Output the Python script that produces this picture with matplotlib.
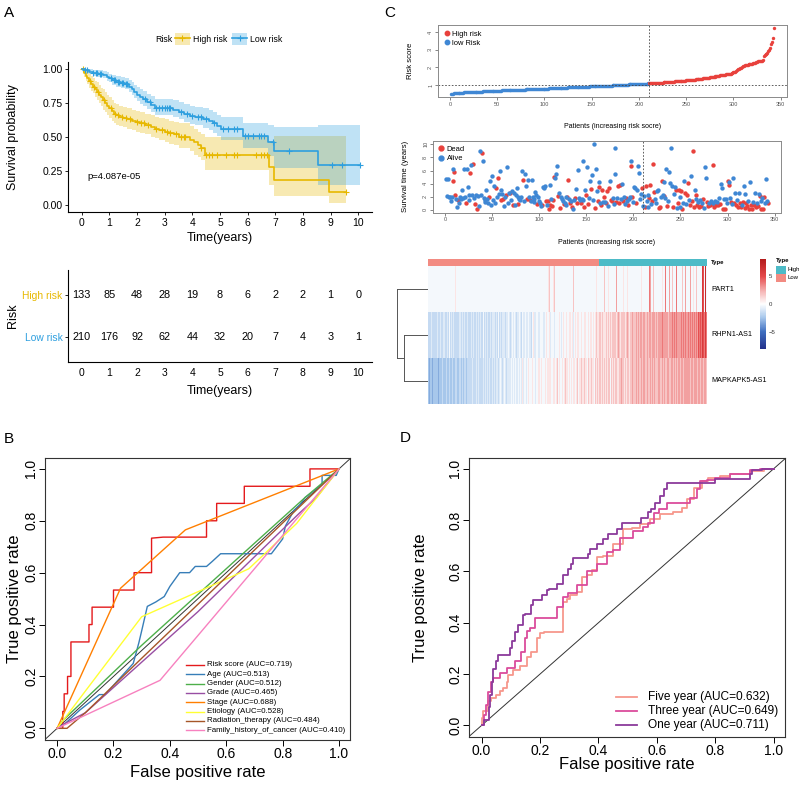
import numpy as np
import matplotlib
matplotlib.use('Agg')
import matplotlib.pyplot as plt
from matplotlib.colors import LinearSegmentedColormap, ListedColormap
from matplotlib.lines import Line2D
from matplotlib.patches import Patch, Rectangle

plt.rcParams['font.family'] = ['Liberation Sans', 'DejaVu Sans']

W, H = 799, 785

# ────────────────────────────────
# A: Kaplan-Meier (step curves, 95% CI, censor marks)

km_groups = ['High risk', 'Low risk']
km_colors = ['#E7B800', '#2E9FDF']

high_t = [0, 0.08, 0.15, 0.2, 0.27, 0.33, 0.4, 0.47, 0.55, 0.62, 0.7, 0.78, 0.85, 0.92, 1.0, 1.08, 1.15,
          1.25, 1.35, 1.5, 1.65, 1.8, 1.95, 2.1, 2.3, 2.5, 2.65, 2.8, 3.0, 3.15, 3.35, 3.5, 3.9, 4.05,
          4.2, 4.3, 4.45, 6.78, 6.97, 8.95, 9.55]
high_s = [1.0, 0.97, 0.95, 0.93, 0.91, 0.89, 0.87, 0.85, 0.83, 0.81, 0.79, 0.77, 0.75, 0.73, 0.71, 0.69,
          0.67, 0.66, 0.65, 0.64, 0.63, 0.62, 0.61, 0.60, 0.59, 0.575, 0.56, 0.55, 0.54, 0.53, 0.52, 0.50,
          0.48, 0.46, 0.44, 0.42, 0.37, 0.28, 0.185, 0.093, 0.093]
high_lo = [1.0, 0.94, 0.91, 0.89, 0.86, 0.84, 0.82, 0.79, 0.77, 0.75, 0.73, 0.70, 0.68, 0.66, 0.64, 0.62,
           0.60, 0.59, 0.58, 0.57, 0.56, 0.55, 0.54, 0.53, 0.52, 0.50, 0.49, 0.48, 0.46, 0.45, 0.44, 0.42,
           0.40, 0.37, 0.35, 0.33, 0.26, 0.15, 0.065, 0.015, 0.015]
high_hi = [1.0, 1.0, 0.99, 0.98, 0.96, 0.95, 0.93, 0.91, 0.90, 0.88, 0.86, 0.85, 0.83, 0.81, 0.79, 0.77,
           0.75, 0.74, 0.73, 0.72, 0.71, 0.70, 0.69, 0.68, 0.67, 0.66, 0.65, 0.64, 0.63, 0.62, 0.61, 0.60,
           0.58, 0.56, 0.54, 0.52, 0.50, 0.47, 0.51, 0.51, 0.51]
high_cens = [0.05, 0.3, 0.45, 0.6, 0.8, 1.05, 1.2, 1.3, 1.45, 1.6, 1.75, 2.0, 2.15, 2.25, 2.4, 2.7, 2.9,
             3.1, 3.2, 3.4, 3.6, 3.7, 3.75, 4.3, 4.5, 4.6, 4.7, 4.9, 5.2, 5.5, 5.6, 6.3, 6.5, 6.6, 6.7, 9.55]

low_t = [0, 0.1, 0.25, 0.4, 0.6, 0.75, 0.9, 1.0, 1.1, 1.25, 1.4, 1.55, 1.7, 1.8, 1.9, 2.0, 2.1, 2.2,
         2.35, 2.5, 2.65, 3.3, 3.5, 3.7, 3.9, 4.1, 4.4, 4.6, 4.75, 4.9, 5.05, 5.85, 6.75, 6.97, 8.55, 10.05]
low_s = [1.0, 0.99, 0.98, 0.97, 0.965, 0.955, 0.94, 0.93, 0.915, 0.90, 0.895, 0.885, 0.87, 0.85, 0.83,
         0.81, 0.79, 0.775, 0.755, 0.735, 0.715, 0.70, 0.685, 0.67, 0.655, 0.645, 0.63, 0.615, 0.60, 0.58,
         0.555, 0.505, 0.46, 0.40, 0.295, 0.295]
low_lo = [1.0, 0.98, 0.96, 0.95, 0.94, 0.93, 0.91, 0.90, 0.88, 0.865, 0.86, 0.85, 0.83, 0.81, 0.785,
          0.765, 0.745, 0.73, 0.705, 0.685, 0.66, 0.645, 0.63, 0.61, 0.595, 0.585, 0.565, 0.55, 0.53, 0.51,
          0.48, 0.42, 0.36, 0.27, 0.15, 0.15]
low_hi = [1.0, 1.0, 1.0, 0.99, 0.99, 0.985, 0.975, 0.965, 0.955, 0.945, 0.94, 0.93, 0.915, 0.90, 0.885,
          0.865, 0.85, 0.835, 0.815, 0.80, 0.78, 0.77, 0.76, 0.745, 0.73, 0.72, 0.71, 0.695, 0.685, 0.665,
          0.645, 0.60, 0.59, 0.57, 0.59, 0.59]
low_cens = [0.1, 0.2, 0.4, 0.5, 0.55, 0.65, 0.7, 1.05, 1.15, 1.2, 1.3, 1.35, 1.45, 1.5, 1.6, 1.65, 2.3,
            2.45, 2.7, 2.8, 2.9, 3.0, 3.1, 3.15, 3.2, 3.6, 3.8, 4.0, 4.2, 4.3, 4.5, 4.8, 5.1, 5.3, 5.5,
            5.6, 5.9, 6.0, 6.2, 6.4, 6.5, 6.6, 6.9, 7.5, 9.05, 9.4, 10.05]

table_times = list(range(11))
table_high = [133, 85, 48, 28, 19, 8, 6, 2, 2, 1, 0]
table_low = [210, 176, 92, 62, 44, 32, 20, 7, 4, 3, 1]

# ────────────────────────────────
# C: risk score, survival status, heatmap

n_low, n_high = 210, 133

risk_low = [0.47, 0.50, 0.51, 0.52, 0.53, 0.54, 0.54, 0.55, 0.55, 0.56,
            0.56, 0.57, 0.57, 0.57, 0.58, 0.58, 0.58, 0.59, 0.59, 0.59,
            0.60, 0.60, 0.60, 0.61, 0.61, 0.61, 0.62, 0.62, 0.62, 0.62,
            0.63, 0.63, 0.63, 0.63, 0.64, 0.64, 0.64, 0.64, 0.65, 0.65,
            0.65, 0.65, 0.66, 0.66, 0.66, 0.66, 0.67, 0.67, 0.67, 0.67,
            0.68, 0.68, 0.68, 0.68, 0.69, 0.69, 0.69, 0.69, 0.70, 0.70,
            0.70, 0.70, 0.71, 0.71, 0.71, 0.71, 0.71, 0.72, 0.72, 0.72,
            0.72, 0.73, 0.73, 0.73, 0.73, 0.74, 0.74, 0.74, 0.74, 0.75,
            0.75, 0.75, 0.75, 0.75, 0.76, 0.76, 0.76, 0.76, 0.77, 0.77,
            0.77, 0.77, 0.78, 0.78, 0.78, 0.78, 0.79, 0.79, 0.79, 0.79,
            0.80, 0.80, 0.80, 0.80, 0.81, 0.81, 0.81, 0.81, 0.82, 0.82,
            0.82, 0.82, 0.83, 0.83, 0.83, 0.83, 0.84, 0.84, 0.84, 0.84,
            0.85, 0.85, 0.85, 0.85, 0.86, 0.86, 0.86, 0.86, 0.87, 0.87,
            0.87, 0.87, 0.88, 0.88, 0.88, 0.88, 0.89, 0.89, 0.89, 0.89,
            0.90, 0.90, 0.90, 0.91, 0.91, 0.91, 0.91, 0.92, 0.92, 0.92,
            0.92, 0.93, 0.93, 0.93, 0.93, 0.94, 0.94, 0.94, 0.94, 0.95,
            0.95, 0.95, 0.95, 0.96, 0.96, 0.96, 0.96, 0.97, 0.97, 0.97,
            0.97, 0.98, 0.98, 0.98, 0.99, 0.99, 0.99, 0.99, 1.00, 1.00,
            1.00, 1.01, 1.01, 1.01, 1.02, 1.02, 1.02, 1.02, 1.03, 1.03,
            1.03, 1.04, 1.04, 1.04, 1.04, 1.05, 1.05, 1.05, 1.06, 1.06,
            1.06, 1.06, 1.07, 1.07, 1.07, 1.07, 1.08, 1.08, 1.08, 1.09]
risk_high = [1.09, 1.10, 1.10, 1.10, 1.11, 1.11, 1.11, 1.12, 1.12, 1.12,
             1.13, 1.13, 1.13, 1.14, 1.14, 1.15, 1.15, 1.15, 1.16, 1.16,
             1.17, 1.17, 1.17, 1.18, 1.18, 1.19, 1.19, 1.20, 1.20, 1.21,
             1.21, 1.22, 1.22, 1.23, 1.23, 1.24, 1.24, 1.25, 1.25, 1.26,
             1.26, 1.27, 1.27, 1.28, 1.29, 1.29, 1.30, 1.30, 1.31, 1.32,
             1.32, 1.33, 1.34, 1.34, 1.35, 1.36, 1.36, 1.37, 1.38, 1.39,
             1.39, 1.40, 1.41, 1.42, 1.43, 1.44, 1.45, 1.46, 1.47, 1.48,
             1.49, 1.50, 1.51, 1.52, 1.53, 1.54, 1.55, 1.56, 1.57, 1.58,
             1.59, 1.60, 1.61, 1.62, 1.63, 1.64, 1.65, 1.67, 1.69, 1.71,
             1.73, 1.76, 1.80, 1.84, 1.88, 1.92, 1.95, 1.98, 2.02, 2.06,
             2.10, 2.13, 2.14, 2.15, 2.16, 2.17, 2.18, 2.19, 2.20, 2.21,
             2.22, 2.24, 2.26, 2.29, 2.32, 2.34, 2.35, 2.36, 2.37, 2.38,
             2.42, 2.62, 2.70, 2.74, 2.78, 2.84, 2.90, 3.00, 3.08, 3.30,
             3.45, 3.65, 4.25]

surv_time = [4.7, 2.1, 4.7, 2.0, 1.9, 1.3, 1.9, 6.2, 4.4, 5.8,
             2.2, 1.7, 0.5, 1.5, 1.0, 2.0, 1.6, 3.0, 1.8, 6.3,
             2.0, 1.0, 6.2, 3.5, 2.3, 1.5, 5.6, 6.9, 2.2, 7.0,
             1.8, 0.9, 2.2, 0.1, 2.1, 0.6, 9.0, 2.2, 8.6, 7.5,
             1.8, 1.5, 1.2, 3.1, 1.6, 1.0, 1.9, 4.4, 0.7, 5.2,
             1.5, 3.7, 1.1, 3.3, 1.9, 4.9, 2.4, 5.9, 1.5, 3.0,
             2.4, 1.7, 0.6, 1.9, 2.3, 6.6, 1.1, 2.6, 2.5, 1.5,
             2.9, 0.8, 2.6, 0.7, 2.3, 3.3, 1.9, 0.9, 1.7, 1.5,
             2.0, 5.9, 4.6, 1.3, 5.5, 3.6, 1.7, 4.6, 1.9, 1.5,
             1.3, 4.6, 2.0, 1.6, 1.2, 2.7, 2.3, 0.9, 1.9, 1.3,
             1.1, 0.6, 0.7, 3.5, 3.3, 3.7, 1.4, 0.8, 1.3, 0.2,
             3.8, 0.7, 1.6, 0.6, 1.5, 5.0, 4.9, 5.4, 6.7, 2.1,
             2.5, 0.3, 1.9, 1.7, 1.3, 0.9, 1.0, 2.0, 0.8, 1.9,
             4.6, 1.7, 1.0, 1.3, 0.4, 0.2, 1.5, 1.8, 3.2, 1.1,
             6.1, 1.8, 1.5, 1.1, 1.6, 7.5, 1.5, 0.4, 3.1, 2.3,
             6.6, 0.9, 1.8, 4.4, 3.2, 5.3, 1.5, 10.0, 0.3, 6.2,
             2.9, 1.3, 4.2, 3.5, 1.0, 0.8, 3.1, 1.2, 2.0, 1.2,
             1.0, 2.9, 0.6, 3.4, 4.4, 1.5, 1.4, 1.8, 0.9, 9.4,
             5.4, 1.2, 1.8, 3.7, 1.0, 3.8, 1.7, 3.9, 1.4, 1.9,
             0.9, 1.8, 1.3, 0.7, 1.6, 2.0, 6.7, 7.5, 1.9, 1.2,
             3.5, 3.3, 1.1, 3.0, 6.7, 5.6, 1.7, 2.4, 3.3, 0.6,
             2.1, 0.5, 3.7, 1.3, 2.3, 0.4, 1.8, 3.8, 0.9, 1.3,
             7.0, 2.8, 1.6, 1.0, 2.9, 3.0, 0.3, 0.4, 2.0, 4.4,
             2.3, 2.1, 4.3, 1.8, 6.3, 0.6, 1.4, 5.7, 4.1, 9.5,
             3.7, 0.5, 2.4, 3.5, 3.1, 0.3, 1.1, 3.0, 1.9, 0.5,
             2.9, 0.1, 1.0, 4.4, 2.5, 0.9, 2.2, 4.1, 1.5, 0.8,
             5.1, 1.3, 8.9, 0.4, 3.0, 1.6, 2.2, 0.7, 1.2, 0.4,
             1.5, 0.6, 1.0, 1.7, 0.3, 6.6, 4.9, 1.2, 0.6, 1.0,
             0.8, 1.3, 0.9, 6.8, 1.1, 0.4, 1.4, 0.7, 1.2, 0.8,
             1.8, 0.9, 4.0, 3.3, 0.2, 1.7, 0.2, 1.7, 1.0, 4.4,
             4.3, 3.8, 1.8, 1.2, 0.9, 4.8, 1.0, 2.6, 0.7, 1.5,
             0.5, 2.6, 1.1, 0.4, 0.8, 1.2, 3.7, 0.3, 2.4, 1.0,
             0.6, 1.4, 0.2, 4.3, 0.8, 0.2, 1.2, 0.7, 2.5, 0.4,
             1.1, 0.6, 2.4, 2.1, 0.2, 1.3, 1.8, 0.2, 2.0, 1.1,
             4.7, 1.4, 1.0]
# D = dead, A = alive, one letter per patient
surv_state = ("AAAAAAAADD" "DAADAAAAAA" "ADAAAADAAD" "ADADAAAADA" "AAAAAADAAA"
              "AAADADAADA" "ADAADAAADA" "ADAAAAADAA" "AADAAADAAD" "AAAAAAADAA"
              "AADAAADADD" "ADADDDAAAD" "ADAAADAAAD" "DADADAADAD" "AAADAAADAD"
              "ADAADAAADA" "ADADADDADA" "DDADADDAAA" "ADADDDAADA" "ADADAADADA"
              "AADAAAAADA" "ADDAAADDAD" "DDAAAADDAD" "ADAAADAAAA" "ADAADADDAA"
              "DDAADADDAD" "ADDDAADDAD" "ADADAAADDA" "DADDADADAD" "ADAADADAAD"
              "ADADAADADA" "DADDADADAD" "DADADDADAD" "ADADDAADDA" "AAD")

genes = ['PART1', 'RHPN1-AS1', 'MAPKAPK5-AS1']
# expression level codes per patient (see expr_levels)
expr_levels = {'0': -4.0, '1': -3.2, '2': -2.4, '3': -1.6, '4': -0.9, '5': -0.3, '6': 0.8,
               '7': 1.8, '8': 2.8, '9': 3.8, 'a': 4.8, 'b': 5.8, 'c': 6.8}
expr_part1 = ("5555555555 5555555555 5555555555 5556555555 5555555555 5555555555 5555555555 "
              "5555555555 5555555555 5555555555 5555555555 5555555555 5555555555 5555555555 "
              "5555555567 5555675555 5555555555 5555555576 5555555555 5555555555 5555555655 "
              "5555557555 5655555555 5855555555 6555565555 5555555555 5565555555 5598555755 "
              "5555555565 5955558555 7555595555 5575558555 5585556555 7555555ba5 5c5")
expr_rhpn1 = ("3343433343 3433343334 4334335343 3433433344 3343443343 4334345334 3443434353 "
              "4344334434 4434435344 3445434454 4345445435 4454345445 5445454356 4545546455 "
              "5454565456 4565545565 5656456565 6556565646 5656665565 6566565656 6656566766 "
              "7676766767 6776767677 7677876767 7767787677 7877678787 7887878778 8788787887 "
              "8878887898 8898878988 9889898898 8989989898 9898a98989 98a99a9ba9 8b9")
expr_mapk = ("2122212212 2212222322 2232223223 3223232233 3232333233 3333432334 3343334343 "
             "4334343434 3434443445 4344543445 4454454546 4545456455 5456545565 5645565656 "
             "5565656566 6565665657 5656565667 6656756565 6567656676 5676665766 6766576676 "
             "7676767767 6767576776 7767677867 7677677677 7877678787 7787878778 8778787787 "
             "7878878787 8787887878 8788787888 7888788878 8878887888 8788878878 887")
dendro_heights = [6.2, 8.0]  # RHPN1-AS1 + MAPKAPK5-AS1, then PART1

# ────────────────────────────────
# B: ROC of clinical features

roc_b_names = ['Risk score', 'Age', 'Gender', 'Grade', 'Stage', 'Etiology',
               'Radiation_therapy', 'Family_history_of_cancer']
roc_b_auc = ['0.719', '0.513', '0.512', '0.465', '0.688', '0.528', '0.484', '0.410']
roc_b_colors = ['#E41A1C', '#377EB8', '#4DAF4A', '#984EA3', '#FF7F00', '#FFFF33', '#A65628', '#F781BF']
roc_b_fpr = [
    [0, 0.02, 0.02, 0.025, 0.025, 0.037, 0.037, 0.049, 0.049, 0.113, 0.113, 0.124, 0.124, 0.2, 0.2,
     0.273, 0.273, 0.335, 0.335, 0.376, 0.53, 0.53, 0.566, 0.566, 0.664, 0.664, 0.897, 0.897, 1.0],
    [0, 0.03, 0.08, 0.15, 0.17, 0.27, 0.28, 0.29, 0.30, 0.32, 0.35, 0.38, 0.40, 0.435, 0.47,
     0.49, 0.53, 0.55, 0.58, 0.76, 0.80, 0.81, 0.84, 0.86, 0.88, 0.94, 0.94, 0.99, 1.0],
    [0, 0.02, 0.3, 0.61, 0.88, 1.0],
    [0, 0.03, 0.1, 0.5, 0.86, 0.92, 1.0],
    [0, 0.225, 0.455, 1.0],
    [0, 0.30, 0.6, 0.68, 0.85, 1.0],
    [0, 0.035, 0.1, 0.3, 1.0],
    [0, 0.365, 1.0],
]
roc_b_tpr = [
    [0, 0, 0.065, 0.065, 0.133, 0.133, 0.2, 0.2, 0.333, 0.333, 0.4, 0.4, 0.467, 0.467, 0.533,
     0.533, 0.6, 0.6, 0.733, 0.737, 0.737, 0.80, 0.80, 0.867, 0.867, 0.933, 0.933, 1.0, 1.0],
    [0, 0.02, 0.07, 0.13, 0.13, 0.25, 0.29, 0.33, 0.376, 0.47, 0.487, 0.508, 0.547, 0.60, 0.60,
     0.624, 0.624, 0.643, 0.673, 0.673, 0.73, 0.78, 0.84, 0.86, 0.89, 0.94, 0.975, 0.975, 1.0],
    [0, 0.03, 0.32, 0.625, 0.89, 1.0],
    [0, 0.02, 0.06, 0.45, 0.83, 0.89, 1.0],
    [0, 0.54, 0.765, 1.0],
    [0, 0.43, 0.575, 0.615, 0.79, 1.0],
    [0, 0, 0.06, 0.27, 1.0],
    [0, 0.185, 1.0],
]

# ────────────────────────────────
# D: time-dependent ROC

roc_d_names = ['Five year', 'Three year', 'One year']
roc_d_auc = ['0.632', '0.649', '0.711']
roc_d_colors = ['#F7978C', '#DB4C9C', '#8B3A9B']
five_fpr = [0, 0.006, 0.023, 0.034, 0.051, 0.063, 0.074, 0.088, 0.091, 0.109, 0.131, 0.154, 0.171, 0.189,
            0.2, 0.214, 0.234, 0.28, 0.291, 0.303, 0.326, 0.343, 0.36, 0.377, 0.394, 0.417, 0.451, 0.486,
            0.514, 0.543, 0.577, 0.611, 0.634, 0.657, 0.686, 0.703, 0.726, 0.754, 0.777, 0.817, 0.851,
            0.92, 0.966, 1.0]
five_tpr = [0, 0.03, 0.055, 0.094, 0.107, 0.12, 0.133, 0.146, 0.17, 0.197, 0.217, 0.23, 0.268, 0.288,
            0.34, 0.359, 0.365, 0.365, 0.48, 0.494, 0.507, 0.52, 0.578, 0.585, 0.604, 0.655, 0.662, 0.707,
            0.765, 0.768, 0.785, 0.804, 0.823, 0.823, 0.83, 0.849, 0.881, 0.926, 0.952, 0.965, 0.972,
            0.978, 0.99, 1.0]
three_fpr = [0, 0.01, 0.015, 0.023, 0.031, 0.04, 0.063, 0.086, 0.114, 0.134, 0.149, 0.157, 0.166, 0.183,
             0.191, 0.2, 0.21, 0.257, 0.28, 0.297, 0.326, 0.36, 0.394, 0.429, 0.451, 0.474, 0.52, 0.554,
             0.571, 0.589, 0.606, 0.634, 0.651, 0.686, 0.714, 0.737, 0.749, 0.771, 0.8, 0.851, 0.92,
             0.954, 1.0]
three_tpr = [0, 0, 0.04, 0.08, 0.13, 0.17, 0.185, 0.204, 0.223, 0.25, 0.288, 0.34, 0.368, 0.378,
             0.417, 0.42, 0.42, 0.42, 0.46, 0.50, 0.517, 0.546, 0.60, 0.63, 0.675, 0.685, 0.73, 0.759,
             0.775, 0.79, 0.826, 0.843, 0.866, 0.866, 0.866, 0.888, 0.92, 0.952, 0.956, 0.965, 0.978,
             0.997, 1.0]
one_fpr = [0, 0.01, 0.015, 0.025, 0.03, 0.035, 0.04, 0.051, 0.057, 0.069, 0.097, 0.103, 0.114, 0.126,
           0.143, 0.149, 0.171, 0.177, 0.189, 0.206, 0.211, 0.223, 0.231, 0.257, 0.266, 0.28, 0.295,
           0.305, 0.314, 0.337, 0.366, 0.371, 0.394, 0.417, 0.434, 0.463, 0.48, 0.497, 0.545, 0.552,
           0.571, 0.579, 0.594, 0.611, 0.623, 0.634, 0.651, 0.8, 0.806, 0.92, 0.926, 0.96, 1.0]
one_tpr = [0, 0, 0.02, 0.02, 0.07, 0.12, 0.17, 0.22, 0.25, 0.275, 0.275, 0.30, 0.33, 0.365, 0.39,
           0.43, 0.436, 0.468, 0.488, 0.488, 0.507, 0.507, 0.526, 0.533, 0.552, 0.552, 0.585, 0.61,
           0.63, 0.652, 0.652, 0.668, 0.688, 0.707, 0.726, 0.746, 0.765, 0.788, 0.788, 0.81, 0.81,
           0.83, 0.845, 0.868, 0.894, 0.92, 0.943, 0.943, 0.961, 0.961, 0.978, 0.997, 1.0]


# ────────────────────────────────
# helpers: axes placed by pixel box (left, top, right, bottom)

fig = plt.figure(figsize=(W / 100, H / 100), dpi=100)


def box(l, t, r, b):
    ax = fig.add_axes([l / W, 1 - b / H, (r - l) / W, (b - t) / H])
    ax.px = (l, t, r, b)
    return ax


def put_xlabel(ax, text, y, size):
    l, t, r, b = ax.px
    ax.set_xlabel(text, fontsize=size, va='center')
    ax.xaxis.set_label_coords(0.5, (b - y) / (b - t))


def put_ylabel(ax, text, x, size):
    l, t, r, b = ax.px
    ax.set_ylabel(text, fontsize=size, va='center')
    ax.yaxis.set_label_coords((x - l) / (r - l), 0.5)


def ftext(x, y, s, **kw):
    fig.text(x / W, 1 - y / H, s, **kw)


# ────────────────────────────────
# A

axk = box(68, 62, 372, 212)
km_data = [(high_t, high_s, high_lo, high_hi, high_cens), (low_t, low_s, low_lo, low_hi, low_cens)]
for (t, s, lo, hi, cens), col in zip(km_data, km_colors):
    axk.fill_between(t, lo, hi, step='post', color=col, alpha=0.3, lw=0)
for (t, s, lo, hi, cens), col in zip(km_data, km_colors):
    axk.step(t, s, where='post', color=col, lw=1.2)
    k = np.searchsorted(t, cens, side='right') - 1
    axk.plot(cens, np.array(s)[k], ls='none', marker='+', ms=4.5, mew=0.8, color=col)
axk.set_xlim(-0.5, 10.5)
axk.set_ylim(-0.05, 1.05)
axk.set_xticks(table_times)
axk.set_yticks([0, 0.25, 0.5, 0.75, 1.0])
axk.set_yticklabels(['0.00', '0.25', '0.50', '0.75', '1.00'])
axk.tick_params(labelsize=7.5, length=2.5, width=0.6, pad=1.5)
for sp in ['top', 'right']:
    axk.spines[sp].set_visible(False)
axk.text(0.2, 0.19, 'p=4.087e-05', fontsize=6.8)
put_xlabel(axk, 'Time(years)', 238, 9)
put_ylabel(axk, 'Survival probability', 13, 9)

handles = [(Patch(facecolor=c, alpha=0.3, edgecolor='none'),
            Line2D([], [], color=c, lw=1.2, marker='+', ms=4.5, mew=0.8)) for c in km_colors]
fig.legend(handles, km_groups, loc='center left', bbox_to_anchor=(175 / W, 1 - 39 / H),
           ncol=2, frameon=False, fontsize=6.3, handlelength=1.7, handleheight=1.6,
           columnspacing=0.5, handletextpad=0.4, borderpad=0, borderaxespad=0)
ftext(155, 39, 'Risk', fontsize=6.3, va='center')

axr = box(68, 270, 372, 362)
for counts, yrow in [(table_high, 2), (table_low, 1)]:
    for tt, n in zip(table_times, counts):
        axr.text(tt, yrow, str(n), ha='center', va='center', fontsize=7.8)
axr.set_xlim(-0.5, 10.5)
axr.set_ylim(0.4, 2.6)
axr.set_xticks(table_times)
axr.set_yticks([2, 1])
axr.set_yticklabels(km_groups, fontsize=7.4)
for lab, c in zip(axr.get_yticklabels(), km_colors):
    lab.set_color(c)
axr.tick_params(axis='x', labelsize=7.5, length=0, pad=4)
axr.tick_params(axis='y', length=2.5, width=0.6, pad=1.5)
for sp in ['top', 'right']:
    axr.spines[sp].set_visible(False)
put_xlabel(axr, 'Time(years)', 391, 9)
put_ylabel(axr, 'Risk', 13, 9)

# ────────────────────────────────
# C

c_red, c_blue = '#E8413C', '#3F87D4'
frame_col, tick_col = '#8a8a8a', '#555555'
pid = np.arange(1, n_low + n_high + 1)
risk = np.array(risk_low + risk_high)
is_high = pid > n_low

axs = box(438, 25, 787, 97)
axs.scatter(pid[~is_high], risk[~is_high], s=6, color=c_blue, lw=0)
axs.scatter(pid[is_high], risk[is_high], s=6, color=c_red, lw=0)
axs.axvline(n_low + 0.5, color='#444444', lw=0.6, ls=(0, (2, 2)))
axs.axhline(np.median(risk), color='#444444', lw=0.6, ls=(0, (2, 2)))
axs.set_xlim(-12.7, 356.7)
axs.set_ylim(0.32, 4.40)
axs.set_xticks(range(0, 351, 50))
axs.set_yticks([1, 2, 3, 4])
axs.set_yticklabels(['1', '2', '3', '4'], rotation=90, va='center')
axs.legend([Line2D([], [], ls='none', marker='o', ms=3.2, color=c_red),
            Line2D([], [], ls='none', marker='o', ms=3.2, color=c_blue)],
           ['High risk', 'low Risk'], loc='upper left', frameon=False, fontsize=5.4,
           handletextpad=0.2, handlelength=1.0, labelspacing=0.3, borderaxespad=0.3)
put_xlabel(axs, 'Patients (increasing risk socre)', 127, 5)
put_ylabel(axs, 'Risk score', 410, 5.6)

axv = box(433, 141, 781, 212.5)
dead = np.array([c == 'D' for c in surv_state])
stime = np.array(surv_time)
axv.scatter(pid[dead], stime[dead], s=10, color=c_red, lw=0)
axv.scatter(pid[~dead], stime[~dead], s=10, color=c_blue, lw=0)
axv.axvline(n_low + 0.5, color='#444444', lw=0.6, ls=(0, (2, 2)))
axv.set_xlim(-12.7, 356.7)
axv.set_ylim(-0.4, 10.5)
axv.set_xticks(range(0, 351, 50))
axv.set_yticks(range(0, 11, 2))
axv.set_yticklabels([str(v) for v in range(0, 11, 2)], rotation=90, va='center')
axv.legend([Line2D([], [], ls='none', marker='o', ms=3.5, color=c_red),
            Line2D([], [], ls='none', marker='o', ms=3.5, color=c_blue)],
           ['Dead', 'Alive'], loc='upper left', frameon=False, fontsize=5.4,
           handletextpad=0.2, handlelength=1.0, labelspacing=0.3, borderaxespad=0.2)
put_xlabel(axv, 'Patients (increasing risk socre)', 242, 5)
put_ylabel(axv, 'Survival time (years)', 405, 5.6)

for a in (axs, axv):
    for sp in a.spines.values():
        sp.set_color(frame_col)
        sp.set_linewidth(0.7)
    a.tick_params(labelsize=4, length=2, width=0.5, pad=1.5, colors=tick_col)

# heatmap
expr = np.array([[expr_levels[ch] for ch in ''.join(s.split())]
                 for s in (expr_part1, expr_rhpn1, expr_mapk)])
assert expr.shape == (3, n_low + n_high), expr.shape
heat_cmap = LinearSegmentedColormap.from_list(
    'heat', [(0.0, '#22308a'), (0.19, '#3f6fc0'), (0.35, '#a8c8ec'), (0.5, '#ffffff'),
             (0.65, '#f5b0b0'), (0.81, '#e5484a'), (1.0, '#b31b1b')])
axh = box(428, 266, 707, 404)
im = axh.imshow(expr, aspect='auto', interpolation='nearest', cmap=heat_cmap, vmin=-8, vmax=8)
axh.set_axis_off()

type_cols = ['#F28B82', '#4DBBC7']  # Low, High
axt = box(428, 259.5, 707, 266)
axt.imshow(is_high.astype(int)[None, :], aspect='auto', interpolation='nearest',
           cmap=ListedColormap(type_cols), vmin=0, vmax=1)
axt.set_axis_off()

ftext(711, 263, 'Type', fontsize=4.3, fontweight='bold', va='center')
for g, yc in zip(genes, [290, 335, 381]):
    ftext(711, yc, g, fontsize=5.2, va='center')

cax = box(760, 259, 766, 349)
cb = fig.colorbar(im, cax=cax, ticks=[-5, 0, 5])
cb.outline.set_visible(False)
cb.ax.tick_params(labelsize=4.3, length=0, pad=2, colors='#333333')

ftext(776, 261, 'Type', fontsize=4.3, fontweight='bold', va='center')
for lab, c, yt in [('High', type_cols[1], 266), ('Low', type_cols[0], 274)]:
    fig.add_artist(Rectangle((776 / W, 1 - (yt + 7.5) / H), 10 / W, 7.5 / H,
                             transform=fig.transFigure, facecolor=c, edgecolor='none'))
    ftext(788, yt + 3.8, lab, fontsize=4.3, va='center')

axd = box(395, 266, 428, 404)
h1, h2 = dendro_heights
dc = '#555555'
axd.plot([0, h2], [0.5, 0.5], color=dc, lw=0.7)
axd.plot([0, h1], [1.5, 1.5], color=dc, lw=0.7)
axd.plot([0, h1], [2.5, 2.5], color=dc, lw=0.7)
axd.plot([h1, h1], [1.5, 2.5], color=dc, lw=0.7)
axd.plot([h1, h2], [2.0, 2.0], color=dc, lw=0.7)
axd.plot([h2, h2], [0.5, 2.0], color=dc, lw=0.7)
axd.set_xlim(h2 * 33 / 31, 0)
axd.set_ylim(3, 0)
axd.set_axis_off()

# ────────────────────────────────
# B and D: ROC panels (R base look)


def roc_frame(ax, xlab_y, ylab_x, ytick_pad):
    ax.plot([-0.1, 1.1], [-0.1, 1.1], color='#333333', lw=0.7, zorder=1)
    ax.set_xlim(-0.043, 1.039)
    ax.set_ylim(-0.045, 1.042)
    ticks = [0, 0.2, 0.4, 0.6, 0.8, 1.0]
    ax.set_xticks(ticks)
    ax.set_yticks(ticks)
    ax.set_xticklabels(['%.1f' % v for v in ticks])
    ax.set_yticklabels(['%.1f' % v for v in ticks], rotation=90, va='center')
    ax.tick_params(labelsize=10, length=4, width=0.7, pad=1)
    ax.tick_params(axis='y', pad=ytick_pad)
    for sp in ax.spines.values():
        sp.set_linewidth(0.8)
        sp.set_color('#333333')
    put_xlabel(ax, 'False positive rate', xlab_y, 12)
    put_ylabel(ax, 'True positive rate', ylab_x, 12)


axb = box(45, 458, 350, 740)
for fp, tp, c in zip(roc_b_fpr, roc_b_tpr, roc_b_colors):
    axb.plot(fp, tp, color=c, lw=1.0)
roc_frame(axb, 773, 15, 1)
for i, (nm, auc, c) in enumerate(zip(roc_b_names, roc_b_auc, roc_b_colors)):
    yy = (740 - (665 + 9.3 * i)) / 282
    axb.plot([0.462, 0.521], [yy, yy], color=c, lw=1.0, transform=axb.transAxes)
    axb.text(0.531, yy, '%s (AUC=%s)' % (nm, auc), fontsize=5.7, va='center',
             transform=axb.transAxes)

axD = box(469, 458, 785, 737)
for fp, tp, c in zip([five_fpr, three_fpr, one_fpr], [five_tpr, three_tpr, one_tpr], roc_d_colors):
    axD.plot(fp, tp, color=c, lw=1.3, drawstyle='steps-pre')
roc_frame(axD, 765, 420, 1)
for i, (nm, auc, c) in enumerate(zip(roc_d_names, roc_d_auc, roc_d_colors)):
    yy = (737 - (697 + 14 * i)) / 279
    axD.plot([0.465, 0.532], [yy, yy], color=c, lw=1.3, transform=axD.transAxes)
    axD.text(0.566, yy, '%s (AUC=%s)' % (nm, auc), fontsize=8.6, va='center',
             transform=axD.transAxes)

# panel letters
for letter, x, y in [('A', 9, 13), ('B', 9, 439), ('C', 390, 13), ('D', 405, 438)]:
    ftext(x, y, letter, fontsize=11, ha='center', va='center')

fig.savefig('out.png', dpi=100)
